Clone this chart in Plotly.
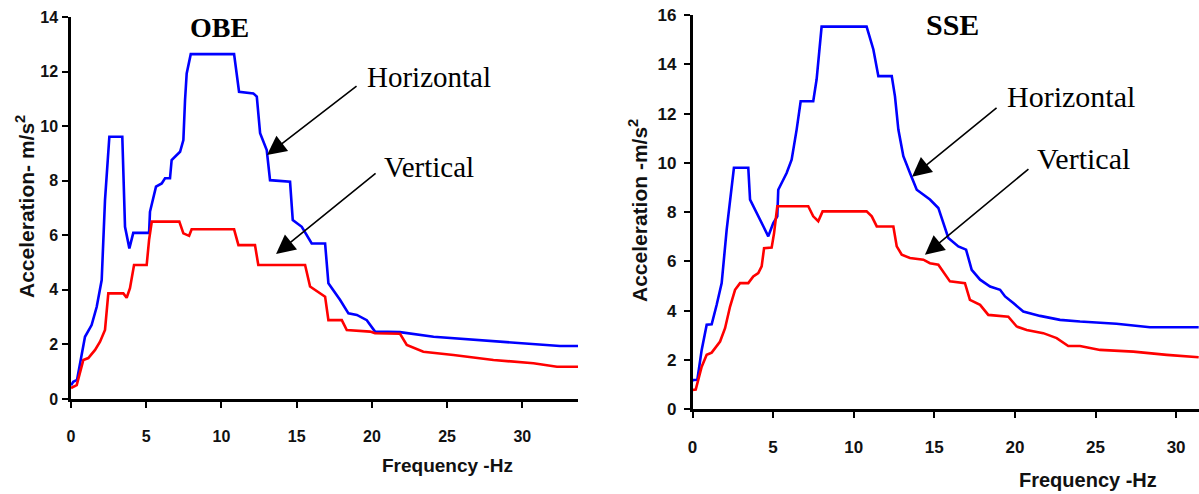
import plotly.graph_objects as go

# ---------------- data ----------------
obe_h_f = [0.0, 0.15, 0.4, 0.93, 1.37, 1.71, 2.04, 2.26, 2.55, 3.41, 3.59, 3.88, 4.14, 5.19, 5.25,
           5.65, 6.03, 6.25, 6.58, 6.69, 7.25, 7.47, 7.58, 7.69, 7.96, 10.84, 11.17, 12.12, 12.35,
           12.57, 13.01, 13.23, 14.56, 14.74, 15.34, 16.0, 16.89, 17.11, 17.89, 18.44, 19.0, 19.66,
           20.21, 21.87, 24.1, 26.97, 29.85, 32.5, 33.7]
obe_h_a = [0.5, 0.63, 0.7, 2.28, 2.71, 3.38, 4.36, 7.29, 9.61, 9.61, 6.31, 5.52, 6.09, 6.09, 6.86,
           7.78, 7.9, 8.09, 8.09, 8.76, 9.06, 9.49, 10.96, 11.93, 12.64, 12.64, 11.26, 11.2, 11.08,
           9.74, 9.12, 8.02, 7.96, 6.56, 6.31, 5.7, 5.7, 4.24, 3.63, 3.14, 3.08, 2.89,
           2.47, 2.45, 2.28, 2.16, 2.04, 1.94, 1.94]

obe_v_f = [0.0, 0.11, 0.38, 0.82, 1.15, 1.6, 1.93, 2.26, 2.48, 3.48, 3.7, 3.92, 4.19, 5.03, 5.19,
           5.37, 7.2, 7.47, 7.85, 8.02, 10.84, 11.13, 12.23, 12.45, 15.56, 15.89, 16.67, 16.89,
           17.11, 18.0, 18.33, 19.88, 20.21, 21.87, 22.32, 23.42, 25.42, 28.08, 30.74, 32.3, 33.7]
obe_v_a = [0.4, 0.43, 0.51, 1.43, 1.5, 1.8, 2.1, 2.53, 3.87, 3.87, 3.71, 4.06, 4.91, 4.91, 5.83,
           6.5, 6.5, 6.07, 5.98, 6.22, 6.22, 5.64, 5.64, 4.91, 4.91, 4.12, 3.81, 3.75,
           2.89, 2.89, 2.53, 2.47, 2.41, 2.39, 1.98, 1.73, 1.61, 1.43, 1.31, 1.18, 1.18]

sse_h_f = [0.0, 0.05, 0.3, 0.57, 0.88, 1.19, 1.5, 1.81, 2.12, 2.33, 2.57, 3.46, 3.57, 4.7, 5.01,
           5.26, 5.32, 5.84, 6.15, 6.46, 6.71, 7.49, 7.7, 8.01, 10.8, 11.22, 11.53, 12.36, 12.56,
           12.77, 13.08, 13.49, 13.91, 14.73, 15.25, 15.87, 16.49, 16.97, 17.32, 17.84, 18.46,
           19.08, 19.39, 19.9, 20.52, 21.56, 22.8, 24.04, 26.3, 28.38, 31.4]
sse_h_a = [1.15, 1.19, 1.2, 2.41, 3.43, 3.45, 4.24, 5.12, 7.29, 8.37, 9.8, 9.8, 8.51, 7.02, 7.56,
           7.83, 8.91, 9.59, 10.13, 11.35, 12.5, 12.5, 13.39, 15.53, 15.53, 14.6, 13.52, 13.52, 12.7,
           11.35, 10.27, 9.59, 8.91, 8.51, 8.17, 6.95, 6.61, 6.48, 5.66, 5.26, 4.98,
           4.85, 4.58, 4.31, 3.97, 3.79, 3.63, 3.56, 3.47, 3.33, 3.33]

sse_v_f = [0.0, 0.2, 0.57, 0.88, 1.19, 1.71, 2.02, 2.33, 2.64, 2.95, 3.46, 3.77, 4.08, 4.29, 4.44,
           4.91, 5.06, 5.26, 7.18, 7.49, 7.8, 8.07, 10.8, 11.12, 11.43, 12.46, 12.67, 12.98, 13.49,
           14.32, 14.73, 15.25, 15.97, 16.9, 17.21, 17.84, 18.35, 19.59, 20.11, 20.73, 21.76,
           22.59, 23.31, 24.04, 25.28, 27.35, 29.42, 31.4]
sse_v_a = [0.78, 0.8, 1.73, 2.21, 2.3, 2.75, 3.29, 4.17, 4.85, 5.12, 5.12, 5.39, 5.53, 5.8, 6.54,
           6.56, 7.15, 8.24, 8.24, 7.83, 7.63, 8.03, 8.03, 7.83, 7.42, 7.42, 6.61, 6.27, 6.14,
           6.07, 5.93, 5.87, 5.19, 5.12, 4.44, 4.24, 3.83, 3.76, 3.36, 3.22, 3.09,
           2.89, 2.57, 2.57, 2.41, 2.34, 2.21, 2.11]

x_ticks = [0, 5, 10, 15, 20, 25, 30]
obe_y_ticks = [0, 2, 4, 6, 8, 10, 12, 14]
sse_y_ticks = [0, 2, 4, 6, 8, 10, 12, 14, 16]

titles = ["OBE", "SSE"]
y_titles = ["Acceleration- m/s<sup>2</sup>", "Acceleration -m/s<sup>2</sup>"]
x_title = "Frequency -Hz"

BLUE = "#0000ff"
RED = "#ff0000"
SANS = "Liberation Sans, Arial, sans-serif"
SERIF = "Liberation Serif, Times New Roman, serif"

fig = go.Figure()
fig.add_trace(go.Scatter(x=obe_h_f, y=obe_h_a, mode="lines", line=dict(color=BLUE, width=2.6),
                         xaxis="x", yaxis="y", showlegend=False))
fig.add_trace(go.Scatter(x=obe_v_f, y=obe_v_a, mode="lines", line=dict(color=RED, width=2.6),
                         xaxis="x", yaxis="y", showlegend=False))
fig.add_trace(go.Scatter(x=sse_h_f, y=sse_h_a, mode="lines", line=dict(color=BLUE, width=2.6),
                         xaxis="x2", yaxis="y2", showlegend=False))
fig.add_trace(go.Scatter(x=sse_v_f, y=sse_v_a, mode="lines", line=dict(color=RED, width=2.6),
                         xaxis="x2", yaxis="y2", showlegend=False))

W, H = 1199, 494


def axis_common(fs, standoff=0):
    return dict(showline=True, linecolor="black", linewidth=2.5, ticks="outside", ticklen=6,
                tickwidth=2, tickcolor="black", showgrid=False, zeroline=False, automargin=False,
                ticklabelstandoff=standoff,
                tickfont=dict(family=SANS, size=fs, color="#111", weight="bold"))


fig.update_layout(
    width=W, height=H, margin=dict(l=0, r=0, t=0, b=0, pad=0, autoexpand=False),
    paper_bgcolor="white", plot_bgcolor="white",
    xaxis=dict(domain=[71 / W, 578 / W], range=[0, 33.7], tickvals=x_ticks, anchor="y",
               **axis_common(16, 15)),
    yaxis=dict(domain=[1 - 399 / H, 1 - 17 / H], range=[0, 14], tickvals=obe_y_ticks, anchor="x",
               **axis_common(16, 1)),
    xaxis2=dict(domain=[692.5 / W, 1.0], range=[0, 31.42], tickvals=x_ticks, anchor="y2",
                **axis_common(17, 15)),
    yaxis2=dict(domain=[1 - 409.3 / H, 1 - 15 / H], range=[0, 16], tickvals=sse_y_ticks,
                anchor="x2", **axis_common(17, 4)),
)


def paper_text(text, px, py, family, size, angle=0):
    return dict(text=text, x=px / W, y=1 - py / H, xref="paper", yref="paper",
                xanchor="center", yanchor="middle", showarrow=False, textangle=angle,
                font=dict(family=family, size=size, color="black" if family == SERIF else "#111"))


ann = []
# chart titles
ann.append(paper_text("<b>%s</b>" % titles[0], 219, 27, SERIF, 28))
ann.append(paper_text("<b>%s</b>" % titles[1], 952, 25, SERIF, 30))
# axis titles
ann.append(paper_text("<b>%s</b>" % x_title, 447, 465, SANS, 19))
ann.append(paper_text("<b>%s</b>" % x_title, 1088, 480, SANS, 20))
ann.append(paper_text("<b>%s</b>" % y_titles[0], 25, 207, SANS, 21, -90))
ann.append(paper_text("<b>%s</b>" % y_titles[1], 638, 211, SANS, 21, -90))

# labels with arrows
labels = [
    # text, text x, text y, tip x, tip y, ax, ay, xref, yref, size
    ("Horizontal", 19.55, 11.8, 13.03, 8.94, 91, -70, "x", "y", 29),
    ("Vertical", 20.68, 8.5, 13.63, 5.31, 101, -82, "x", "y", 29),
    ("Horizontal", 19.39, 12.7, 13.62, 9.44, 86, -70, "x2", "y2", 30),
    ("Vertical", 21.25, 10.17, 14.42, 6.27, 105, -87, "x2", "y2", 30),
]
for t, tx, ty, hx, hy, ax, ay, xr, yr, fs in labels:
    ann.append(dict(text=t, x=tx, y=ty, xref=xr, yref=yr, xanchor="left", yanchor="middle",
                    showarrow=False, font=dict(family=SERIF, size=fs, color="black")))
    ann.append(dict(text="", x=hx, y=hy, xref=xr, yref=yr, showarrow=True, ax=ax, ay=ay,
                    axref="pixel", ayref="pixel", arrowhead=2, arrowsize=2.4, arrowwidth=1.6,
                    arrowcolor="black", standoff=0))

fig.update_layout(annotations=ann)
fig.write_html("out.html")
